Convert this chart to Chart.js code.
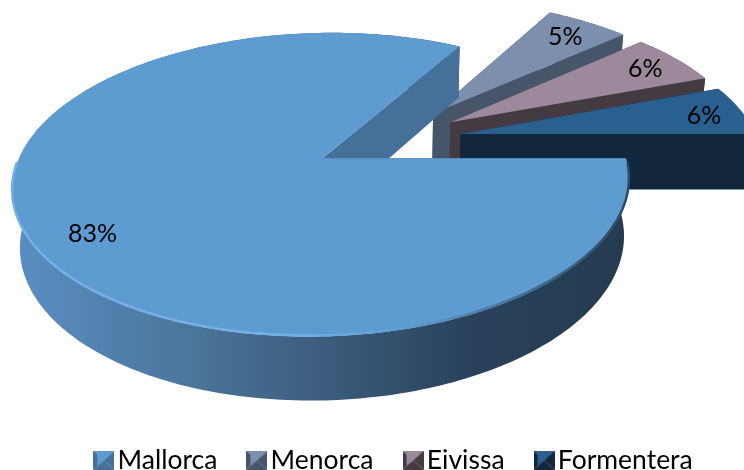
<!DOCTYPE html>
<html lang="en">
<head>
  <meta charset="UTF-8" />
  <title>Islas</title>
  <script src="https://cdn.jsdelivr.net/npm/chart.js"></script>
  <style>
    html,body{margin:0;padding:0;background:#fff;}
    canvas{display:block;}
  </style>
</head>
<body>
  <canvas id="pie" width="744" height="470"></canvas>

  <script>
    const islands = ['Mallorca','Menorca','Eivissa','Formentera'];
    const shares  = [83.1,5.4,5.9,5.6];
    const shareLabels = ['83%','5%','6%','6%'];

    const faceColors = ['#5d9bd0','#7c90ad','#9c8a9c','#2a6090'];
    const wallColors = ['#44709a','#47556a','#443a42','#12273c'];
    const labelDist  = [0.88,0.72,0.78,0.83];
    const labelNudge = [[25,5],[17,-9],[16,-3],[10,2]];

    // fake 3d: projective view of the flat pie
    const view = {cx:388,cy:140,R:297,H:141,p:0.17,explode:0.25,drop:57,shrink:0.02};

    function project(a,b,low){
      const s = 1/(1-view.p*b+(low?view.shrink:0));
      return [view.cx+view.R*a*s, view.cy+(view.H*b+(low?view.drop:0))*s];
    }

    function arcPoints(arc){
      const mid = (arc.startAngle+arc.endAngle)/2;
      const ox = Math.cos(mid)*view.explode, oy = Math.sin(mid)*view.explode;
      const rim = [];
      const n = Math.ceil((arc.endAngle-arc.startAngle)/0.02);
      for(let i=0;i<=n;i++){
        const t = arc.startAngle+(arc.endAngle-arc.startAngle)*i/n;
        rim.push([ox+Math.cos(t),oy+Math.sin(t)]);
      }
      return {apex:[ox,oy],rim,mid};
    }

    function fillPoly(ctx,pts,color){
      ctx.beginPath();
      pts.forEach((p,i)=> i?ctx.lineTo(p[0],p[1]):ctx.moveTo(p[0],p[1]));
      ctx.closePath();
      ctx.fillStyle=color;
      ctx.fill();
    }

    const solidPie = {
      id:'solidPie',
      afterLayout(chart){
        // legend row sits on the bottom edge, its padding only spaces the items
        const lg = chart.legend;
        const h = lg.bottom-lg.top;
        lg.top = 447-lg.options.labels.padding;
        lg.bottom = lg.top+h;
        lg.left += 26;
        lg.right += 26;
      },
      beforeDatasetDraw(){ return false; },
      afterDatasetsDraw(chart){
        const ctx = chart.ctx;
        const arcs = chart.getDatasetMeta(0).data;
        const order = [1,2,3,0];

        order.forEach(i=>{
          const g = arcPoints(arcs[i]);
          const apexT = project(g.apex[0],g.apex[1],false);
          const apexB = project(g.apex[0],g.apex[1],true);
          const top = g.rim.map(p=>project(p[0],p[1],false));
          const low = g.rim.map(p=>project(p[0],p[1],true));

          let outer = wallColors[i];
          if(i===0){
            outer = ctx.createLinearGradient(12,0,627,0);
            outer.addColorStop(0,'#5a8fc4');
            outer.addColorStop(0.3,'#4b7499');
            outer.addColorStop(0.5,'#3c5d7e');
            outer.addColorStop(0.75,'#29415a');
            outer.addColorStop(1,'#243b50');
          }
          fillPoly(ctx,top.concat(low.slice().reverse()),outer);
          fillPoly(ctx,[apexT,top[0],low[0],apexB],wallColors[i]);
          fillPoly(ctx,[apexT,top[top.length-1],low[low.length-1],apexB],wallColors[i]);
          fillPoly(ctx,[apexT].concat(top),faceColors[i]);

          if(i===0){
            // lighter rim along the near edge
            const rimLine = ctx.createLinearGradient(12,0,627,0);
            rimLine.addColorStop(0,'#74b0e8');
            rimLine.addColorStop(0.45,'#74b0e8');
            rimLine.addColorStop(0.65,'#5d9bd0');
            rimLine.addColorStop(0.88,'#3a6286');
            rimLine.addColorStop(1,'#2c4a66');
            ctx.beginPath();
            let started=false;
            top.forEach((p,k)=>{
              if(g.rim[k][1]<0.15) return;
              if(started) ctx.lineTo(p[0],p[1]-1); else {ctx.moveTo(p[0],p[1]-1);started=true;}
            });
            ctx.lineWidth=2.5;
            ctx.strokeStyle=rimLine;
            ctx.stroke();
          }
        });

        ctx.fillStyle='#000';
        ctx.font='25px Lato';
        ctx.textAlign='center';
        ctx.textBaseline='middle';
        arcs.forEach((arc,i)=>{
          const g = arcPoints(arc);
          const a = g.apex[0]+Math.cos(g.mid)*labelDist[i];
          const b = g.apex[1]+Math.sin(g.mid)*labelDist[i];
          const p = project(a,b,false);
          ctx.fillText(shareLabels[i],p[0]+labelNudge[i][0],p[1]+labelNudge[i][1]);
        });
      }
    };

    function legendIcon(face,wall){
      const c = document.createElement('canvas');
      c.width=21; c.height=19;
      const x = c.getContext('2d');
      const mx = 10.5, my = 9.5;
      fillPoly(x,[[0,0],[21,0],[mx,my]],face);
      fillPoly(x,[[0,0],[0,19],[mx,my]],wall);
      fillPoly(x,[[21,0],[21,19],[mx,my]],wall);
      fillPoly(x,[[0,19],[21,19],[mx,my]],wall);
      fillPoly(x,[[4,4],[17,4],[4,15]],face);
      return c;
    }
    const legendIcons = islands.map((_,i)=>legendIcon(faceColors[i],wallColors[i]));

    new Chart(document.getElementById('pie'),{
      type:'pie',
      data:{labels:islands,datasets:[{data:shares,backgroundColor:faceColors,borderWidth:0}]},
      options:{
        responsive:false,
        animation:false,
        rotation:90,
        plugins:{
          tooltip:{enabled:false},
          legend:{
            position:'bottom',
            labels:{
              usePointStyle:true,
              pointStyleWidth:1,
              color:'#000',
              padding:39,
              font:{family:'Lato',size:26.5},
              generateLabels:chart=>Chart.overrides.pie.plugins.legend.labels.generateLabels(chart)
                .map((l,i)=>({...l,pointStyle:legendIcons[i]}))
            }
          }
        }
      },
      plugins:[solidPie]
    });
  </script>
</body>
</html>
